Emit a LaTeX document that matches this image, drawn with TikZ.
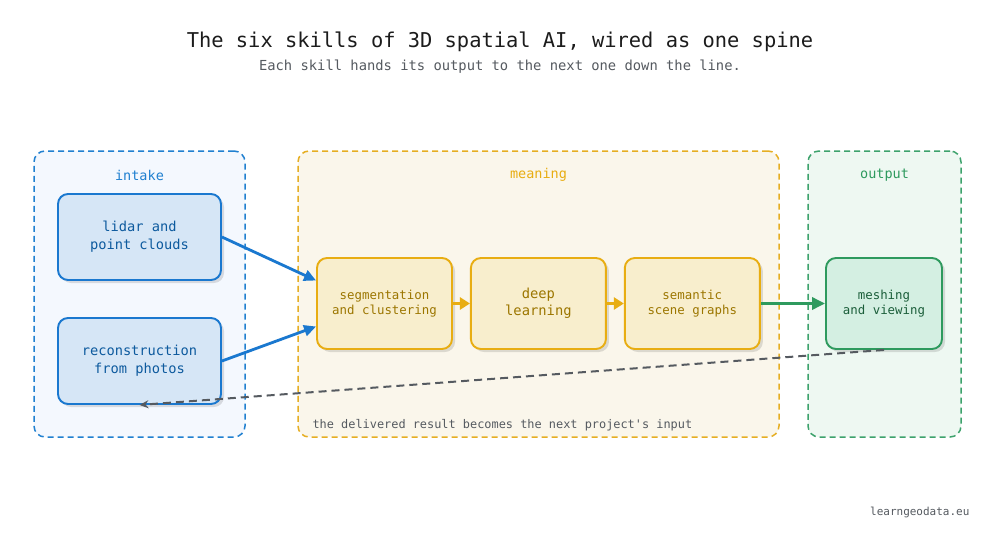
\documentclass[tikz,border=0pt]{standalone}
\usepackage{fontspec}
\setmainfont{DejaVu Sans Mono}[Ligatures=TeXOff]
\usepackage{tikz}
\usetikzlibrary{arrows.meta,positioning,shadows}

\definecolor{inkdark}{HTML}{1C1C1C}
\definecolor{inkgray}{HTML}{555A60}
\definecolor{bluedraw}{HTML}{1A78CF}
\definecolor{bluefill}{HTML}{D6E6F6}
\definecolor{bluetext}{HTML}{0D5A9E}
\definecolor{bluezone}{HTML}{F4F8FE}
\definecolor{bluedash}{HTML}{2080D0}
\definecolor{golddraw}{HTML}{E8AD12}
\definecolor{goldfill}{HTML}{F8EECD}
\definecolor{goldtext}{HTML}{9C7600}
\definecolor{goldzone}{HTML}{FAF6EB}
\definecolor{golddash}{HTML}{E6AE22}
\definecolor{greendraw}{HTML}{2E9A5E}
\definecolor{greenfill}{HTML}{D4EFE2}
\definecolor{greentext}{HTML}{1B5E3A}
\definecolor{greenzone}{HTML}{EEF8F2}
\definecolor{greendash}{HTML}{3DA26C}

\begin{document}
\begin{tikzpicture}[x=1pt,y=-1pt,node distance=17pt,
   zone/.style={draw,dash pattern=on 6pt off 4pt,line width=1.5pt,rounded corners=11pt,
                inner sep=0pt,minimum height=286pt},
   zonelabel/.style={font=\fontsize{13.5}{16}\selectfont},
   skill/.style={draw,line width=1.9pt,rounded corners=10pt,align=center,inner sep=0pt,
                 drop shadow={shadow xshift=3pt,shadow yshift=-3pt,fill=black,opacity=0.12}},
   intakebox/.style={skill,draw=bluedraw,fill=bluefill,text=bluetext,
                     minimum width=163pt,minimum height=86pt,
                     font=\fontsize{13.7}{18}\selectfont},
   meaningbox/.style={skill,draw=golddraw,fill=goldfill,text=goldtext,
                      minimum width=135pt,minimum height=91pt,
                      font=\fontsize{12.4}{15}\selectfont},
   outputbox/.style={skill,draw=greendraw,fill=greenfill,text=greentext,
                     minimum width=116pt,minimum height=91pt,
                     font=\fontsize{12.4}{15}\selectfont}]
   \useasboundingbox[fill=white] (0,0) rectangle (1000,543);

   \node[text=inkdark,font=\fontsize{20.4}{24}\selectfont] (title) at (500,42)
      {The six skills of 3D spatial AI, wired as one spine};
   \node[text=inkgray,font=\fontsize{13.8}{16}\selectfont] (subtitle) at (500,67)
      {Each skill hands its output to the next one down the line.};

   \node[zone,draw=bluedash,fill=bluezone,minimum width=211pt] (intake) at (139.5,294) {};
   \node[zone,draw=golddash,fill=goldzone,minimum width=481pt] (meaning) at (538.5,294) {};
   \node[zone,draw=greendash,fill=greenzone,minimum width=153pt] (output) at (884.5,294) {};
   \node[zonelabel,text=bluedash] (intakelbl) at (139.5,175) {intake};
   \node[zonelabel,text=golddraw] (meaninglbl) at (538.5,175) {meaning};
   \node[zonelabel,text=greendraw] (outputlbl) at (884.5,175) {output};

   \node[intakebox] (lidar) at (139.5,237) {lidar and\\point clouds};
   \node[intakebox] (recon) at (139.5,361) {reconstruction\\from photos};
   \node[meaningbox] (seg) at (384.5,303.5) {segmentation\\and clustering};
   \node[meaningbox,font=\fontsize{13.8}{17}\selectfont] (deep) [right=of seg] {deep\\learning};
   \node[meaningbox] (sem) [right=of deep] {semantic\\scene graphs};
   \node[outputbox] (mesh) at (884,303.5) {meshing\\and viewing};

   \node[anchor=base west,text=inkgray,font=\fontsize{11.9}{14}\selectfont] (loopnote) at (309,428)
      {the delivered result becomes the next project's input};
   \node[anchor=base east,text=inkgray,font=\fontsize{11}{13}\selectfont] (site) at (973,515)
      {learngeodata.eu};

   \path[line width=2.8pt,-{Triangle[length=12pt,width=11pt]},color=bluedraw]
      (lidar.east) edge ([yshift=23pt]seg.west)
      (recon.east) edge ([yshift=-23pt]seg.west);
   \path[line width=3pt,-{Triangle[length=10pt,width=12pt]},color=golddraw]
      (seg) edge (deep)
      (deep) edge (sem);
   \path[line width=3.2pt,-{Triangle[length=13pt,width=12pt]},color=greendraw]
      (sem) edge (mesh);
   \draw[line width=2pt,dash pattern=on 8pt off 5pt,draw=inkgray,-{Stealth[length=9pt,width=8pt]}]
      (mesh.south) -- (recon.south);
\end{tikzpicture}
\end{document}
